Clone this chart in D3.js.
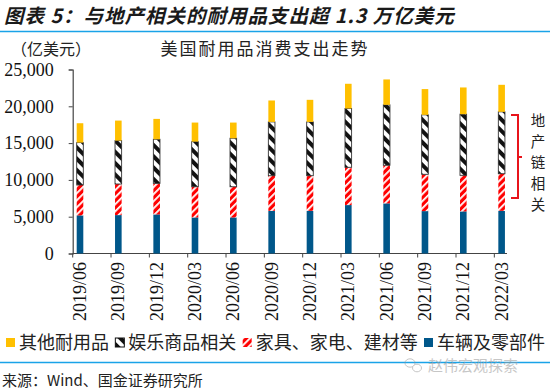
<!DOCTYPE html>
<html><head><meta charset="utf-8">
<script src="https://cdn.jsdelivr.net/npm/d3@7"></script>
<style>
body{margin:0;background:#fff;}
svg{display:block;}
</style></head>
<body><svg id="c" width="550" height="392"></svg>
<script>
const categories = ['2019/06','2019/09','2019/12','2020/03','2020/06','2020/09','2020/12','2021/03','2021/06','2021/09','2021/12','2022/03'];
const vehicles     = [5180, 5220, 5310, 4900, 4900, 5800, 5800, 6580, 6810, 5760, 5720, 5800];
const furnishings  = [4130, 4220, 4220, 4170, 4170, 4770, 4770, 5130, 5180, 5000, 4900, 5040];
const recreational = [5760, 5900, 5990, 6130, 6590, 7310, 7310, 7990, 8210, 8080, 8310, 8410];
const otherDurable = [2630, 2720, 2770, 2590, 2130, 2910, 3000, 3360, 3450, 3500, 3630, 3670];
const yTicks = [0, 5000, 10000, 15000, 20000, 25000];
const seriesNames = ['其他耐用品','娱乐商品相关','家具、家电、建材等','车辆及零部件'];

const svg = d3.select('#c');
const CJK = '"Noto Sans CJK SC", "Noto Sans", sans-serif';
const SERIF = '"Liberation Serif", "DejaVu Serif", serif';

// patterns
const defs = svg.append('defs');
const pf = defs.append('pattern').attr('id','pFurn').attr('patternUnits','userSpaceOnUse')
  .attr('width',5).attr('height',5).attr('patternTransform','rotate(-45)');
pf.append('rect').attr('width',5).attr('height',5).attr('fill','#FF0000');
pf.append('rect').attr('x',0).attr('y',0).attr('width',5).attr('height',1.8).attr('fill','#fff');
const pr = defs.append('pattern').attr('id','pRec').attr('patternUnits','userSpaceOnUse')
  .attr('width',8).attr('height',8).attr('patternTransform','rotate(45)');
pr.append('rect').attr('width',8).attr('height',8).attr('fill','#fff');
pr.append('rect').attr('x',0).attr('y',0).attr('width',8).attr('height',4).attr('fill','#111');

// title
svg.append('text').attr('x',4).attr('y',23)
  .attr('font-family',CJK).attr('font-size',19.5).attr('font-weight','bold').attr('font-style','italic')
  .attr('letter-spacing',1).attr('fill','#1a1a1a').text('图表 5：与地产相关的耐用品支出超 1.3 万亿美元');
svg.append('line').attr('x1',0).attr('x2',550).attr('y1',31.5).attr('y2',31.5)
  .attr('stroke','#1AA3E8').attr('stroke-width',1.5);

svg.append('text').attr('x',11).attr('y',55).attr('font-family',CJK).attr('font-size',16)
  .attr('fill','#222').text('（亿美元）');
svg.append('text').attr('x',265).attr('y',55).attr('text-anchor','middle').attr('font-family',CJK).attr('font-size',17)
  .attr('letter-spacing',2).attr('fill','#222').text('美国耐用品消费支出走势');

// scales
const x0 = 72.7, step = 38.33;
const x = d3.scaleBand().domain(categories).range([x0, x0 + step*categories.length]).paddingInner(0).paddingOuter(0);
const y = d3.scaleLinear().domain([0,25000]).range([253.5, 69.5]);

// y axis
const yAxis = d3.axisLeft(y).tickValues(yTicks).tickSize(4).tickFormat(d3.format(','));
const gy = svg.append('g').attr('transform',`translate(${x0},0)`).call(yAxis);
gy.select('.domain').attr('stroke','#444').attr('stroke-width',1.2);
gy.selectAll('.tick line').attr('stroke','#444');
gy.selectAll('.tick text').attr('font-family',SERIF).attr('font-size',18).attr('fill','#111').attr('x',-19);

// x axis
const gx = svg.append('g');
gx.append('line').attr('x1',x0).attr('x2',507).attr('y1',y(0)).attr('y2',y(0)).attr('stroke','#444').attr('stroke-width',1.2);
gx.selectAll('line.t').data(categories).enter().append('line').attr('class','t')
  .attr('x1',d=>x(d)).attr('x2',d=>x(d)).attr('y1',y(0)).attr('y2',y(0)+4).attr('stroke','#444');
const bw = 6.6, boff = 4;
gx.selectAll('text').data(categories).enter().append('text')
  .attr('transform',d=>`translate(${x(d)+boff+bw/2+6},262) rotate(-90)`)
  .attr('text-anchor','end').attr('font-family',SERIF).attr('font-size',18).attr('fill','#111').text(d=>d);

// stacked bars
const rows = categories.map((c,i)=>({cat:c, veh:vehicles[i], furn:furnishings[i], rec:recreational[i], oth:otherDurable[i]}));
const stack = d3.stack().keys(['veh','furn','rec','oth'])(rows);
const fills = {veh:'#00578A', furn:'url(#pFurn)', rec:'url(#pRec)', oth:'#FFC000'};
stack.forEach(layer=>{
  svg.append('g').selectAll('rect').data(layer).enter().append('rect')
    .attr('x',d=>x(d.data.cat)+boff).attr('width',bw)
    .attr('y',d=>y(d[1])).attr('height',d=>y(d[0])-y(d[1]))
    .attr('fill',fills[layer.key])
    .attr('stroke',layer.key==='rec'?'#333':'none').attr('stroke-width',layer.key==='rec'?0.9:0);
});

// bracket
svg.append('path').attr('d','M511,115H518V198H511M518,157H522').attr('fill','none')
  .attr('stroke','#E8141B').attr('stroke-width',2);
['地','产','链','相','关'].forEach((ch,i)=>{
  svg.append('text').attr('x',538).attr('y',125.5+i*21.2).attr('text-anchor','middle')
    .attr('font-family',CJK).attr('font-size',14.5).attr('fill','#222').text(ch);
});

// legend
const lg = svg.append('g');
const lfills = ['#FFC000','url(#pRec)','url(#pFurn)','#00578A'];
const items = seriesNames.map((n,i)=>{
  const r = lg.append('rect').attr('y',338).attr('width',9).attr('height',9).attr('fill',lfills[i])
    .attr('stroke',i===1?'#111':'none');
  const t = lg.append('text').attr('y',342.5).attr('dy','0.35em')
    .attr('font-family',CJK).attr('font-size',18).attr('fill','#222').text(n);
  return {r, t, w: t.node().getComputedTextLength()};
});
const totalW = d3.sum(items, d=>d.w + 13);
const gap = (545 - 6 - totalW) / (items.length - 1);
let lx = 6;
items.forEach(it=>{
  it.r.attr('x',lx); it.t.attr('x',lx+13);
  lx += 13 + it.w + gap;
});

// source
svg.append('line').attr('x1',0).attr('x2',550).attr('y1',362.5).attr('y2',362.5)
  .attr('stroke','#1AA3E8').attr('stroke-width',1.5);
svg.append('text').attr('x',2).attr('y',386).attr('font-family',CJK).attr('font-size',15)
  .attr('fill','#222').text('来源：Wind、国金证券研究所');
// watermark
const wm = svg.append('g').attr('opacity',0.55);
wm.append('ellipse').attr('cx',410).attr('cy',363).attr('rx',5).attr('ry',4.2).attr('fill','none').attr('stroke','#999');
wm.append('ellipse').attr('cx',417).attr('cy',368).attr('rx',4.5).attr('ry',3.8).attr('fill','#fff').attr('stroke','#999');
wm.append('text').attr('x',428).attr('y',366).attr('dy','0.35em').attr('font-family',CJK).attr('font-size',15)
  .attr('fill','#999').text('赵伟宏观探索');
</script></body></html>
